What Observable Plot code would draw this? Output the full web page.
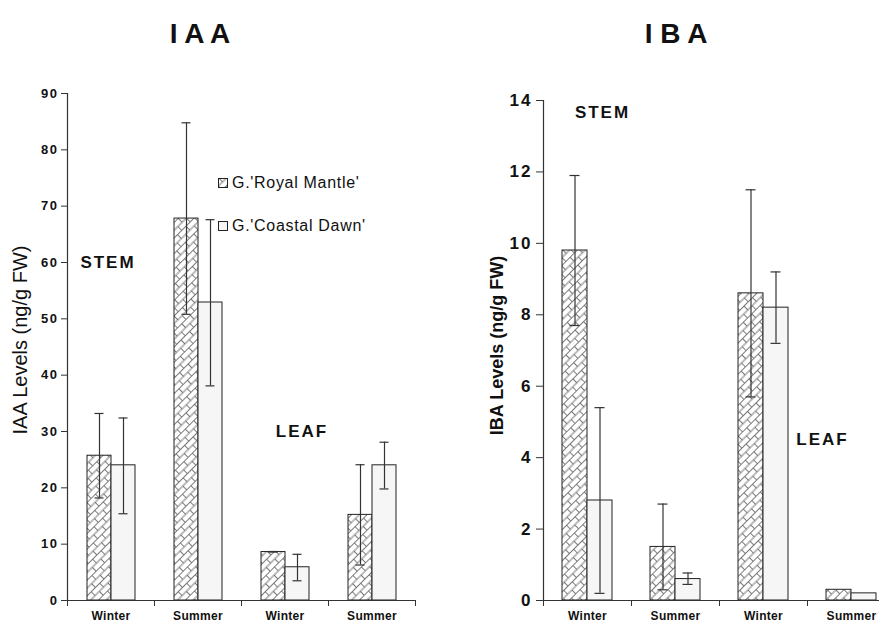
<!DOCTYPE html>
<html>
<head>
<meta charset="utf-8">
<script src="https://cdn.jsdelivr.net/npm/d3@7"></script>
<script src="https://cdn.jsdelivr.net/npm/@observablehq/plot@0.6"></script>
<style>
  html, body { margin: 0; padding: 0; background: #fff; overflow: hidden; }
  body { font-family: "Liberation Sans", Arial, sans-serif; color: #111; }
  #wrap { position: relative; width: 879px; height: 624px; overflow: hidden; background: #fff; }
  .title { position: absolute; top: 20px; width: 200px; text-align: center; font-size: 28px; font-weight: bold; line-height: 1; }
  .panel { position: absolute; top: 60px; }
  .legend-item { position: absolute; font-size: 16px; letter-spacing: 0.7px; line-height: 1; white-space: nowrap; }
  .legend-item svg { position: absolute; left: -14px; top: 3px; }
</style>
</head>
<body>
<div id="wrap">
  <svg width="0" height="0" style="position:absolute">
    <defs>
      <pattern id="hatch" width="12" height="11" patternUnits="userSpaceOnUse" patternTransform="rotate(-45)">
        <rect width="12" height="11" fill="#ffffff"></rect>
        <path d="M0,0.5 H12 M0,6 H12 M0.5,0.5 V6 M6.5,6 V11.5" stroke="#6a6a6a" stroke-width="0.9" fill="none"></path>
      </pattern>
    </defs>
  </svg>
  <div class="title" style="left:100px">I A A</div>
  <div class="title" style="left:576px">I B A</div>
  <div id="left" class="panel" style="left:0px"></div>
  <div id="right" class="panel" style="left:440px"></div>
  <div id="legend"></div>
</div>
<script>
// ---------------- data ----------------
const groupKeys = ["Stem Winter", "Stem Summer", "Leaf Winter", "Leaf Summer"];
const groupLabels = ["Winter", "Summer", "Winter", "Summer"];
const cultivars = ["G.'Royal Mantle'", "G.'Coastal Dawn'"];

const iaaRoyal     = [25.7, 67.8, 8.6, 15.2];
const iaaRoyalLo   = [18.2, 50.8, 8.6, 6.3];
const iaaRoyalHi   = [33.2, 84.8, 8.7, 24.1];
const iaaCoastal   = [24.0, 52.9, 5.9, 24.0];
const iaaCoastalLo = [15.4, 38.1, 3.5, 19.8];
const iaaCoastalHi = [32.4, 67.6, 8.2, 28.1];

const ibaRoyal     = [9.8, 1.5, 8.6, 0.3];
const ibaRoyalLo   = [7.7, 0.3, 5.7, null];
const ibaRoyalHi   = [11.9, 2.7, 11.5, null];
const ibaCoastal   = [2.8, 0.6, 8.2, 0.2];
const ibaCoastalLo = [0.2, 0.45, 7.2, null];
const ibaCoastalHi = [5.4, 0.77, 9.2, null];

const iaaTicks = [0, 10, 20, 30, 40, 50, 60, 70, 80, 90];
const ibaTicks = [0, 2, 4, 6, 8, 10, 12, 14];

const iaaLabel = "IAA Levels (ng/g FW)";
const ibaLabel = "IBA Levels (ng/g FW)";
const noteStem = "STEM";
const noteLeaf = "LEAF";
const iaaStemY = 60, iaaLeafY = 30;
const ibaStemY = 13.65, ibaLeafY = 4.5;

// ---------------- build ----------------
function rows(r, rLo, rHi, c, cLo, cHi) {
  const out = [];
  groupKeys.forEach((g, i) => {
    out.push({group: g, cultivar: cultivars[0], value: r[i], lo: rLo[i], hi: rHi[i]});
    out.push({group: g, cultivar: cultivars[1], value: c[i], lo: cLo[i], hi: cHi[i]});
  });
  return out;
}

const FONT = "Liberation Sans, Arial, sans-serif";

function panel(cfg) {
  const {data, ticks, max, width, height, marginLeft, marginRight, marginTop, marginBottom,
         tickFontSize, tickSpacing, tickSize, tickPadding, label, labelWeight, labelSize, labelDx, labelDy, notes} = cfg;
  const frameH = height - marginTop - marginBottom;
  const err = data.filter(d => d.lo != null);
  const marks = [
    Plot.barY(data.filter(d => d.cultivar === cultivars[0]),
      {fx: "group", x: "cultivar", y: "value", fill: "url(#hatch)", stroke: "#222", strokeWidth: 1}),
    Plot.barY(data.filter(d => d.cultivar === cultivars[1]),
      {fx: "group", x: "cultivar", y: "value", fill: "#f6f6f6", stroke: "#222", strokeWidth: 1}),
    Plot.ruleX(err, {fx: "group", x: "cultivar", y1: "lo", y2: "hi", stroke: "#333", strokeWidth: 1.2}),
    Plot.tickY(err, {fx: "group", x: "cultivar", y: "lo", insetLeft: 7.5, insetRight: 7.5, stroke: "#333", strokeWidth: 1.2}),
    Plot.tickY(err, {fx: "group", x: "cultivar", y: "hi", insetLeft: 7.5, insetRight: 7.5, stroke: "#333", strokeWidth: 1.2}),
    Plot.ruleY([0], {stroke: "#333", strokeWidth: 1.2}),
    Plot.frame({anchor: "left", facetAnchor: "left", stroke: "#333", strokeWidth: 1.2}),
    Plot.frame({anchor: "left", insetTop: frameH, insetBottom: -5, stroke: "#333"}),
    Plot.frame({anchor: "right", facetAnchor: "right", insetTop: frameH, insetBottom: -5, stroke: "#333"}),
    Plot.axisY({ticks, tickSize, tickPadding, fontSize: tickFontSize, fontWeight: "bold", label: null, stroke: "#333", fill: "#111"}),
    Plot.axisFx({anchor: "bottom", tickSize: 0, tickPadding: 11, fontSize: 12, fontWeight: "bold", label: null,
      fill: "#111", tickFormat: d => groupLabels[groupKeys.indexOf(d)]}),
    Plot.text([label], {frameAnchor: "left", facetAnchor: "left", rotate: -90, textAnchor: "middle",
      dx: labelDx, dy: labelDy, fontSize: labelSize, fontWeight: labelWeight, fill: "#111"}),
    ...notes
  ];
  const svg = Plot.plot({
    width, height, marginLeft, marginRight, marginTop, marginBottom,
    style: {fontFamily: FONT, background: "transparent", overflow: "visible"},
    fx: {domain: groupKeys, padding: 0, label: null},
    x: {domain: cultivars, paddingInner: 0, paddingOuter: 0.75, axis: null},
    y: {domain: [0, max], label: null},
    marks
  });
  svg.style.maxWidth = "none";
  // typographic spacing to mimic the wide rendering of the original
  const tickTexts = new Set(ticks.map(String));
  d3.select(svg).selectAll("text").each(function () {
    const t = this.textContent;
    if (tickTexts.has(t)) this.setAttribute("letter-spacing", tickSpacing);
    else if (t === noteStem || t === noteLeaf) this.setAttribute("letter-spacing", 2);
    else if (groupLabels.includes(t)) this.setAttribute("letter-spacing", 0.3);
  });
  return svg;
}

const iaaData = rows(iaaRoyal, iaaRoyalLo, iaaRoyalHi, iaaCoastal, iaaCoastalLo, iaaCoastalHi);
const ibaData = rows(ibaRoyal, ibaRoyalLo, ibaRoyalHi, ibaCoastal, ibaCoastalLo, ibaCoastalHi);

const noteStyle = {fx: "group", y: "y", text: "t", fontSize: 17, fontWeight: "bold", fill: "#111"};

document.getElementById("left").append(panel({
  data: iaaData, ticks: iaaTicks, max: 90,
  width: 440, height: 564, marginLeft: 67, marginRight: 25, marginTop: 33, marginBottom: 24,
  tickFontSize: 13, tickSpacing: 1.5, tickSize: 6, tickPadding: 3,
  label: iaaLabel, labelWeight: "normal", labelSize: 20, labelDx: -47, labelDy: -7,
  notes: [
    Plot.text([{group: groupKeys[0], y: iaaStemY, t: noteStem}], {...noteStyle, dx: -3}),
    Plot.text([{group: groupKeys[2], y: iaaLeafY, t: noteLeaf}], {...noteStyle, dx: 17})
  ]
}));

document.getElementById("right").append(panel({
  data: ibaData, ticks: ibaTicks, max: 14,
  width: 460, height: 564, marginLeft: 103, marginRight: 5, marginTop: 40, marginBottom: 24,
  tickFontSize: 17, tickSpacing: 2, tickSize: 7, tickPadding: 4,
  label: ibaLabel, labelWeight: "bold", labelSize: 18, labelDx: -46, labelDy: -5,
  notes: [
    Plot.text([{group: groupKeys[0], y: ibaStemY, t: noteStem}], {...noteStyle, dx: 15}),
    Plot.text([{group: groupKeys[3], y: ibaLeafY, t: noteLeaf}], {...noteStyle, dx: -29})
  ]
}));

// legend (HTML overlay inside the IAA panel)
const legend = document.getElementById("legend");
const legendFills = ["url(#hatch)", "#f6f6f6"];
const legendTops = [175, 218];
cultivars.forEach((c, i) => {
  const item = document.createElement("div");
  item.className = "legend-item";
  item.style.left = "232px";
  item.style.top = legendTops[i] + "px";
  item.innerHTML = `<svg width="10" height="10"><rect x="0.5" y="0.5" width="9" height="9" fill="${legendFills[i]}" stroke="#222"></rect></svg>`;
  item.append(document.createTextNode(c));
  legend.append(item);
});
</script>
</body>
</html>
